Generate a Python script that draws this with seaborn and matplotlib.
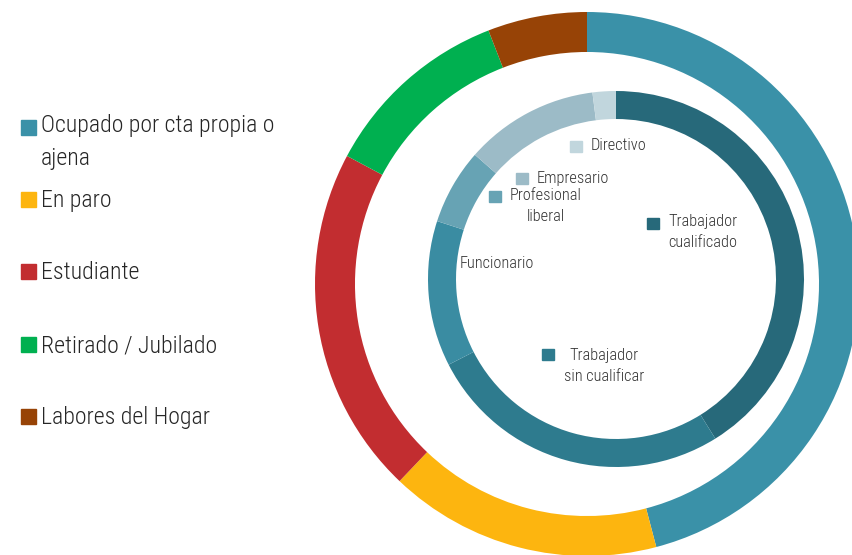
import matplotlib
matplotlib.use("Agg")
import matplotlib.pyplot as plt
from matplotlib import font_manager
from matplotlib.patches import Rectangle
import seaborn as sns

# outer ring: situacion laboral (%)
outer_labels = ["Ocupado por cta propia o\najena", "En paro", "Estudiante",
                "Retirado / Jubilado", "Labores del Hogar"]
outer_values = [45.9, 16.2, 20.7, 11.3, 5.9]
outer_colors = ["#3A91A8", "#FDB50F", "#C22D30", "#00B050", "#974306"]

# inner ring: tipo de ocupacion (%)
inner_labels = ["Trabajador\ncualificado", "Trabajador\nsin cualificar", "Funcionario",
                "Profesional\nliberal", "Empresario", "Directivo"]
inner_values = [41.1, 26.3, 12.5, 6.5, 11.5, 2.0]
inner_colors = ["#27697A", "#2E7B8E", "#3A8CA2", "#67A3B4", "#9CBBC7", "#C1D6DD"]

sns.set_theme(style="white")

# pick a narrow face if there is one
fonts = font_manager.fontManager.ttflist
family, stretch = "Liberation Sans", "normal"
for want in ["Liberation Sans Narrow", "Roboto Condensed", "Open Sans Condensed"]:
    if any(f.name == want for f in fonts):
        family = want
        break
else:
    if any(f.name == "DejaVu Sans" and str(f.stretch) in ("condensed", "semi-condensed")
           for f in fonts):
        family, stretch = "DejaVu Sans", "condensed"
plt.rcParams["font.family"] = [family, "DejaVu Sans"]
plt.rcParams["font.stretch"] = stretch
plt.rcParams["font.weight"] = "light"

W, H = 852, 555
fig = plt.figure(figsize=(W / 100, H / 100), dpi=100)
txt = "#262626"


def px(x, y):
    return x / W, 1 - y / H


def ring(cx, cy, r, values, colors, width):
    ax = fig.add_axes([(cx - r) / W, (H - cy - r) / H, 2 * r / W, 2 * r / H])
    ax.pie(values, colors=colors, startangle=90, counterclock=False,
           radius=1, wedgeprops=dict(width=width, linewidth=0))
    ax.set_xlim(-1, 1)
    ax.set_ylim(-1, 1)
    ax.set_aspect("equal")
    ax.axis("off")
    return ax


ax_out = ring(587, 284, 272, outer_values, outer_colors, 0.147)
ax_in = ring(616, 279, 188, inner_values, inner_colors, 0.149)

# legend on the left (baseline is that of the last line)
legend_y = [127, 199, 271, 344, 416]
for lab, col, y in zip(outer_labels, outer_colors, legend_y):
    fig.patches.append(Rectangle(px(21, y + 7.5), 15 / W, 15 / H, color=col,
                                 transform=fig.transFigure))
    extra = 30 * lab.count("\n")
    fig.text(*px(41, y + 8 + extra), lab, fontsize=17.2, color=txt,
             va="baseline", ha="left", linespacing=1.55)

# labels inside the inner ring: (x text center, y, square x, square y)
inner_pos = [(703, 232, 653, 223), (604, 366, 548, 354), (497, 264, None, None),
             (546, 206, 495, 196), (573, 178, 522, 178), (619, 146, 576, 146)]
for lab, col, (tx, ty, sx, sy) in zip(inner_labels, inner_colors, inner_pos):
    fig.text(*px(tx, ty), lab, fontsize=11.8, color="#333333", ha="center",
             va="center", linespacing=1.45)
    if sx is not None:
        fig.patches.append(Rectangle(px(sx - 6, sy + 5.5), 12 / W, 11 / H,
                                     color=col, transform=fig.transFigure))

fig.savefig("out.png", dpi=100)
